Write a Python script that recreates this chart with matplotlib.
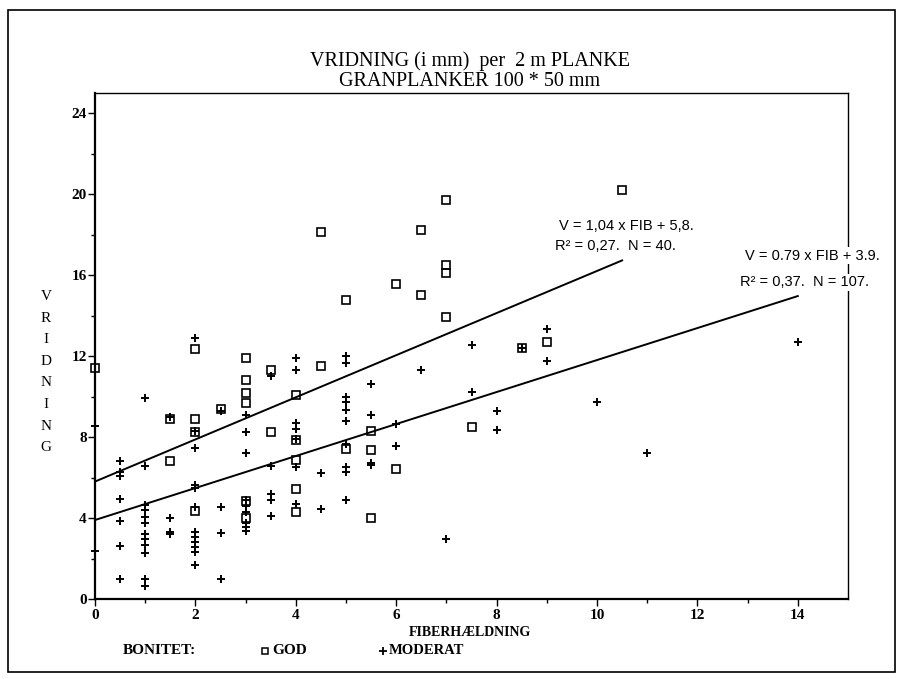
import matplotlib
matplotlib.use("Agg")
import matplotlib.pyplot as plt
from matplotlib.patches import Rectangle
import numpy as np

# ---- data ----
god_x = [10.5, 7, 4.5, 6.5, 7, 7, 6, 6.5, 5, 7,
         2, 9, 3, 0, 4.5, 3.5, 3, 3, 4, 3,
         2.5, 1.5, 2, 2, 3.5, 7.5, 4, 5, 5.5, 5.5,
         4, 1.5, 6, 4, 2, 3, 4, 3, 5.5, 8.5]
god_y = [20.2, 19.7, 18.1, 18.2, 16.5, 16.1, 15.55, 15.0, 14.75, 13.95,
         12.35, 12.7, 11.9, 11.4, 11.5, 11.3, 10.8, 10.15, 10.05, 9.7,
         9.4, 8.9, 8.9, 8.25, 8.25, 8.5, 7.85, 7.4, 7.35, 8.3,
         6.85, 6.8, 6.4, 5.45, 4.35, 4.85, 4.3, 4.0, 4.0, 12.4]

mod_x = [0, 0,
         0.5, 0.5, 0.5, 0.5, 0.5, 0.5, 0.5,
         1, 1, 1, 1, 1, 1, 1, 1, 1, 1, 1, 1,
         1.5, 1.5, 1.5, 1.5,
         2, 2, 2, 2, 2, 2, 2, 2, 2, 2, 2, 2,
         2.5, 2.5, 2.5, 2.5,
         3, 3, 3, 3, 3, 3, 3, 3, 3,
         3.5, 3.5, 3.5, 3.5, 3.5,
         4, 4, 4, 4, 4, 4, 4,
         4.5, 4.5,
         5, 5, 5, 5, 5, 5, 5, 5, 5, 5,
         5.5, 5.5, 5.5, 5.5,
         6, 6,
         6.5, 7, 7.5, 7.5, 8, 8, 8.5, 9, 9, 10, 11, 14]
mod_y = [8.55, 2.35,
         6.8, 6.25, 6.05, 4.95, 3.85, 2.6, 1.0,
         9.95, 6.55, 4.65, 4.4, 4.05, 3.75, 3.2, 2.95, 2.65, 2.25, 1.0, 0.65,
         9.0, 4.0, 3.3, 3.2,
         12.9, 8.3, 7.45, 5.65, 5.5, 4.55, 3.3, 3.05, 2.8, 2.55, 2.3, 1.7,
         9.3, 4.55, 3.25, 1.0,
         9.1, 8.25, 7.2, 4.9, 4.6, 4.3, 3.75, 3.55, 3.35,
         11.0, 6.55, 5.2, 4.9, 4.1,
         11.9, 11.3, 8.7, 8.4, 7.9, 6.5, 4.7,
         6.2, 4.45,
         12.0, 11.65, 10.0, 9.75, 9.35, 8.8, 7.65, 6.5, 6.25, 4.9,
         10.6, 9.1, 6.7, 6.6,
         8.65, 7.55,
         11.3, 2.95, 12.55, 10.2, 9.3, 8.35, 12.4, 13.35, 11.75, 9.75, 7.2, 12.7]

# regression lines (from the printed equations)
god_slope, god_icpt, god_xmax = 1.04, 5.8, 10.5
mod_slope, mod_icpt, mod_xmax = 0.79, 3.9, 14.0

xticks = [0, 2, 4, 6, 8, 10, 12, 14]
yticks = [0, 4, 8, 12, 16, 20, 24]

title1 = "VRIDNING (i mm)  per  2 m PLANKE"
title2 = "GRANPLANKER 100 * 50 mm"

# ---- figure ----
W, H = 903, 679
fig = plt.figure(figsize=(W / 100, H / 100), dpi=100)
ax = fig.add_axes([95 / W, 1 - 599 / H, (848 - 95) / W, (599 - 92.75) / H])

serif = ["Liberation Serif", "DejaVu Serif"]
sans = ["Liberation Sans", "DejaVu Sans"]

ax.plot(god_x, god_y, linestyle="none", marker="s", markersize=5.5,
        markerfacecolor="none", markeredgecolor="black", markeredgewidth=1.2,
        clip_on=False, zorder=3)
ax.plot(mod_x, mod_y, linestyle="none", marker="+", markersize=6,
        color="black", markeredgewidth=1.4, clip_on=False, zorder=3)

xg = np.array([0, god_xmax])
ax.plot(xg, god_slope * xg + god_icpt, color="black", linewidth=1.4, zorder=2)
xm = np.array([0, mod_xmax])
ax.plot(xm, mod_slope * xm + mod_icpt, color="black", linewidth=1.4, zorder=2)

ax.set_xlim(0, 15)
ax.set_ylim(0, 25)
ax.set_xticks(xticks)
ax.set_yticks(yticks)
ax.set_xticks(np.arange(1, 15, 2), minor=True)
ax.set_yticks(np.arange(2, 25, 4), minor=True)
ax.tick_params(axis="both", which="major", direction="out", length=5, width=1,
               labelsize=11)
ax.tick_params(axis="both", which="minor", direction="out", length=3, width=1)
for lab in ax.get_xticklabels() + ax.get_yticklabels():
    lab.set_family(serif)
    lab.set_fontweight("bold")
ax.tick_params(axis="x", pad=2)
ax.tick_params(axis="y", pad=1)

ax.spines["left"].set_linewidth(1.6)
ax.spines["bottom"].set_linewidth(1.6)
ax.spines["top"].set_linewidth(1.0)
ax.spines["right"].set_linewidth(1.0)

# annotations
ax.text(9.24, 18.4, "V = 1,04 x FIB + 5,8.", family=sans, fontsize=10.5,
        va="center", ha="left", zorder=5)
ax.text(9.16, 17.45, "R² = 0,27.  N = 40.", family=sans, fontsize=10.5,
        va="center", ha="left", zorder=5)
ax.text(12.94, 16.95, "V = 0.79 x FIB + 3.9.", family=sans, fontsize=10.5,
        va="center", ha="left", zorder=5, clip_on=False,
        bbox=dict(facecolor="white", edgecolor="none", pad=1))
ax.text(12.84, 15.65, "R² = 0,37.  N = 107.", family=sans, fontsize=10.5,
        va="center", ha="left", zorder=5, clip_on=False,
        bbox=dict(facecolor="white", edgecolor="none", pad=1))

# titles and labels
fig.text(470 / W, 1 - 61 / H, title1, family=serif, fontsize=14.5,
         ha="center", va="center")
fig.text(470 / W, 1 - 81 / H, title2, family=serif, fontsize=14.5,
         ha="center", va="center")
fig.text(470 / W, 1 - 633 / H, "FIBERHÆLDNING", family=serif, fontsize=10,
         fontweight="bold", ha="center", va="center")
fig.text(46 / W, 1 - 372 / H, "\n".join("VRIDNING"), family=serif, fontsize=11,
         ha="center", va="center", linespacing=1.86)

# legend row
fig.text(123 / W, 1 - 651 / H, "BONITET:", family=serif, fontsize=11,
         fontweight="bold", ha="left", va="center")
fig.text(272 / W, 1 - 651 / H, "GOD", family=serif, fontsize=11,
         fontweight="bold", ha="left", va="center")
fig.text(389 / W, 1 - 651 / H, "MODERAT", family=serif, fontsize=10.5,
         fontweight="bold", ha="left", va="center")
fig.lines.append(plt.Line2D([265 / W], [1 - 651 / H], transform=fig.transFigure,
                            marker="s", markersize=5, markerfacecolor="none",
                            markeredgecolor="black", markeredgewidth=1.1,
                            linestyle="none"))
fig.lines.append(plt.Line2D([383 / W], [1 - 651 / H], transform=fig.transFigure,
                            marker="+", markersize=6, color="black",
                            markeredgewidth=1.3, linestyle="none"))

# outer frame
fig.patches.append(Rectangle((8 / W, 1 - 672 / H), (895 - 8) / W, (672 - 10) / H,
                             transform=fig.transFigure, fill=False,
                             edgecolor="black", linewidth=1.2))

fig.savefig("out.png", dpi=100)
